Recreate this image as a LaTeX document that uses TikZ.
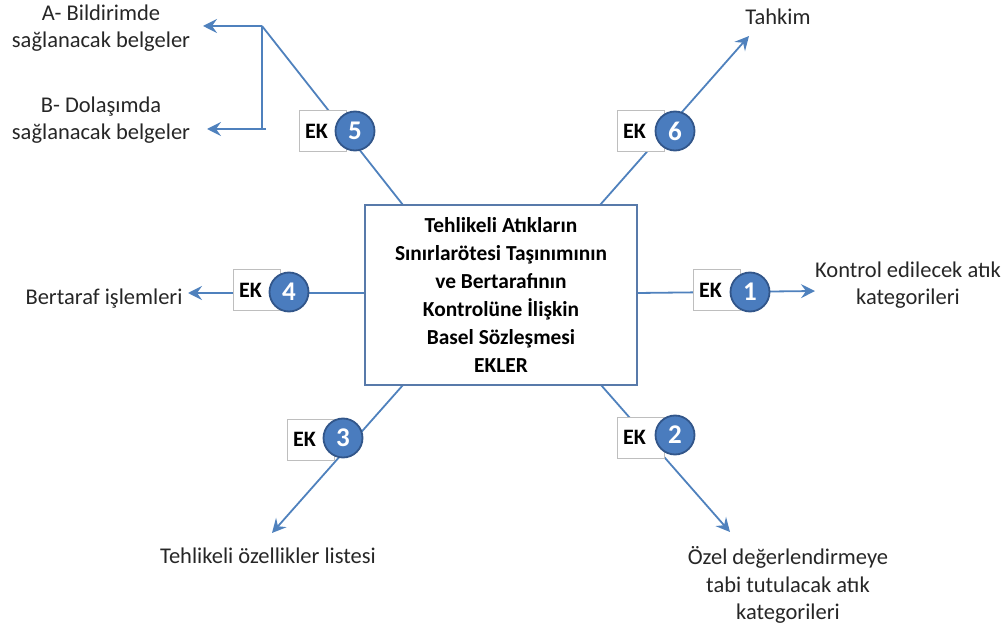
\documentclass[tikz,border=0pt]{standalone}
\usepackage{fontspec}
\setmainfont{Carlito}
\usetikzlibrary{arrows.meta}
\definecolor{linkblue}{RGB}{79,129,189}
\definecolor{boxblue}{RGB}{88,122,170}
\definecolor{discfill}{RGB}{74,124,190}
\definecolor{discedge}{RGB}{50,86,138}
\definecolor{ekedge}{RGB}{190,190,190}
\definecolor{txt}{RGB}{38,38,38}
\tikzset{
  link/.style={draw=linkblue, line width=1.8pt},
  arrowlink/.style={link, -{Stealth[length=14pt,width=14pt,inset=5pt]}},
  mainbox/.style={draw=boxblue, line width=2.4pt, fill=white, minimum width=272pt,
    minimum height=180pt, align=center, font=\bfseries\fontsize{21.4}{28}\selectfont, text=black},
  % the right part of the box sits under the numbered disc, so the text is pushed left
  ekbox/.style={draw=ekedge, line width=1pt, fill=white, minimum width=47pt, minimum height=41pt,
    inner sep=0pt, font=\bfseries\fontsize{22}{24}\selectfont, text=black,
    execute at end node={\hspace{12pt}}},
  ekdisc/.style={circle, draw=discedge, line width=1.8pt, fill=discfill, minimum size=39pt,
    inner sep=0pt, font=\bfseries\fontsize{27}{27}\selectfont, text=white},
  lbl/.style={align=center, font=\fontsize{22.5}{27.5}\selectfont, text=txt}
}
\begin{document}
\begin{tikzpicture}[x=1pt,y=-1pt]
\useasboundingbox (0,0) rectangle (1007,628);

% connector end points on the central box and free arrow tips
\coordinate (b5) at (403,205);  \coordinate (t5) at (262,26);
\coordinate (b6) at (600,205);  \coordinate (t6) at (749,36);
\coordinate (b1) at (637,293);  \coordinate (t1) at (815,291);
\coordinate (b4) at (365,293);  \coordinate (t4) at (188,293);
\coordinate (b3) at (403,385);  \coordinate (t3) at (272,533);
\coordinate (b2) at (601,385);  \coordinate (t2) at (730,532);
\coordinate (k5) at (262,129);  \coordinate (k5r) at (266,129);
\coordinate (aA) at (203,26);   \coordinate (aB) at (207,129);

% connectors
\draw[link] (b5) -- (t5);
\draw[link] (t5) -- (k5);
\draw[arrowlink] (t5) -- (aA);
\draw[arrowlink] (k5r) -- (aB);
\draw[arrowlink] (b6) -- (t6);
\draw[arrowlink] (b1) -- (t1);
\draw[arrowlink] (b4) -- (t4);
\draw[arrowlink] (b3) -- (t3);
\draw[arrowlink] (b2) -- (t2);

% central box
\node[mainbox] (main) at (501,295) {Tehlikeli Atıkların\\Sınırlarötesi Taşınımının\\ve Bertarafının\\Kontrolüne İlişkin\\Basel Sözleşmesi\\EKLER};

% annex markers
\node[ekbox] (e5) at (322.5,131) {EK};    \node[ekdisc] (c5) at (355,131) {5};
\node[ekbox] (e6) at (640.5,131) {EK};    \node[ekdisc] (c6) at (675,131) {6};
\node[ekbox] (e1) at (716.5,290.5) {EK};  \node[ekdisc] (c1) at (750,292) {1};
\node[ekbox] (e4) at (256.5,290.5) {EK};  \node[ekdisc] (c4) at (289,292) {4};
\node[ekbox] (e3) at (310.5,439.5) {EK};  \node[ekdisc] (c3) at (343,438) {3};
\node[ekbox] (e2) at (640.5,437.5) {EK};  \node[ekdisc] (c2) at (675,435) {2};

% labels
\node[lbl] (lA) at (101,28) {A- Bildirimde\\sağlanacak belgeler};
\node[lbl] (lB) at (101,120) {B- Dolaşımda\\sağlanacak belgeler};
\node[lbl] (l6) at (778,17) {Tahkim};
\node[lbl] (l1) at (908,285) {Kontrol edilecek atık\\kategorileri};
\node[lbl] (l4) at (104,299) {Bertaraf işlemleri};
\node[lbl] (l3) at (268,556) {Tehlikeli özellikler listesi};
\node[lbl] (l2) at (788,585) {Özel değerlendirmeye\\tabi tutulacak atık\\kategorileri};
\end{tikzpicture}
\end{document}
